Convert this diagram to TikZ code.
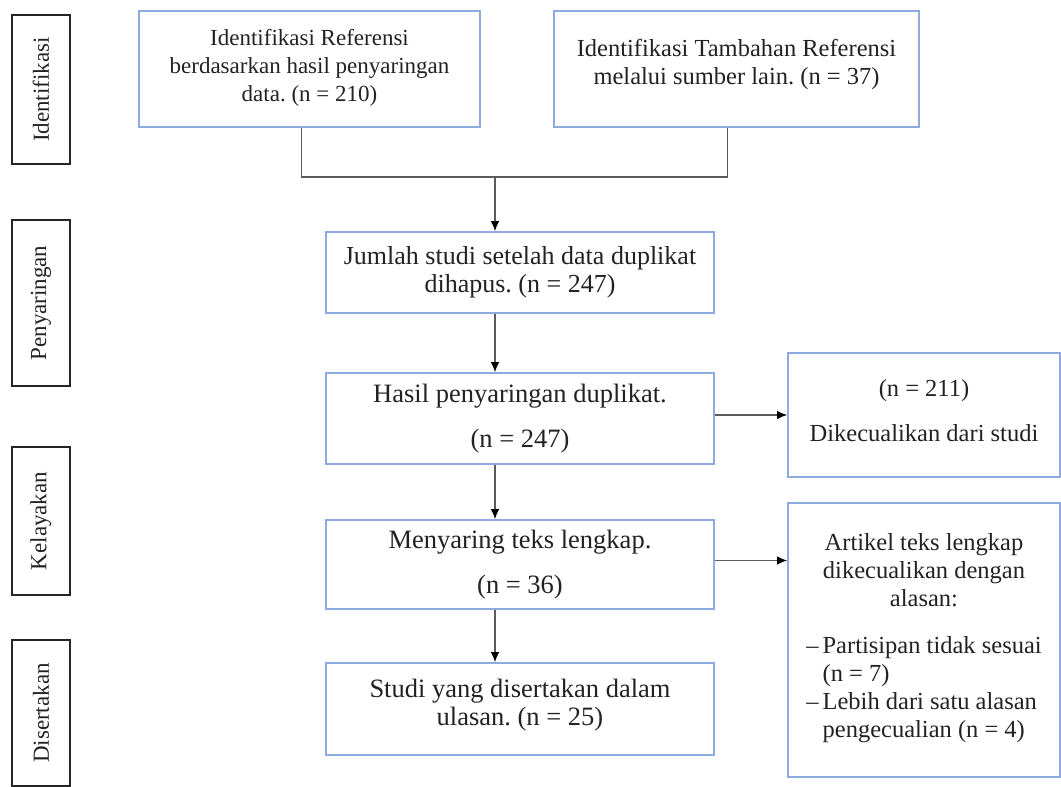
\documentclass[tikz,border=0pt]{standalone}
\usepackage{fontspec}
\setmainfont{Liberation Serif}
\usepackage{tikz}
\usetikzlibrary{arrows.meta, positioning, calc}
\definecolor{boxblue}{HTML}{8FAADC}
\definecolor{txtgray}{HTML}{222222}
\definecolor{linegray}{HTML}{5A5A5A}
\tikzset{>={Latex[length=10pt,width=8.5pt,color=black]}}
\tikzset{
  flowbox/.style={draw=boxblue, line width=1.6pt, align=center, inner sep=4pt, text=txtgray},
  stagebox/.style={draw=black!85, line width=1.8pt, rotate=90, minimum height=58pt, text=txtgray,
    font=\fontsize{23}{26}\selectfont},
  link/.style={draw=linegray, line width=1.3pt}
}
\newcommand{\fsz}[1]{\fontsize{#1}{28}\selectfont}
\frenchspacing

\begin{document}
\begin{tikzpicture}[x=1pt, y=-1pt]
\useasboundingbox (0,0) rectangle (1061,787);
% tahapan di kiri
\node[stagebox, minimum width=149pt] (sId) at (41,89.5) {Identifikasi};
\node[stagebox, minimum width=166pt] (sPy) at (41,303) {Penyaringan};
\node[stagebox, minimum width=148pt] (sKl) at (41,521) {Kelayakan};
\node[stagebox, minimum width=146pt] (sDs) at (41,713) {Disertakan};

% kotak alur
\node[flowbox, font=\fsz{23}, minimum width=341pt, minimum height=116pt] (ref) at (309.5,69)
  {Identifikasi Referensi\\ berdasarkan hasil penyaringan\\ data. (n = 210)\\[-20pt] \mbox{}};
\node[flowbox, font=\fsz{24.5}, minimum width=365pt, minimum height=116pt] (tambah) at (736.5,69)
  {Identifikasi Tambahan Referensi\\ melalui sumber lain. (n = 37)\\[-14pt] \mbox{}};
\node[flowbox, font=\fsz{26}, minimum width=388pt, minimum height=81pt] (dup) at (520,272.5)
  {Jumlah studi setelah data duplikat\\ dihapus. (n = 247)};
\node[flowbox, font=\fsz{26.5}, minimum width=388pt, minimum height=91pt] (hasil) at (520,418.5)
  {Hasil penyaringan duplikat.\\[17pt] (n = 247)};
\node[flowbox, font=\fsz{26.5}, minimum width=388pt, minimum height=89pt] (teks) at (520,564.5)
  {Menyaring teks lengkap.\\[17pt] (n = 36)};
\node[flowbox, font=\fsz{26.5}, minimum width=388pt, minimum height=92pt] (akhir) at (520,709)
  {Studi yang disertakan dalam\\ ulasan. (n = 25)\\[-14pt] \mbox{}};
\node[flowbox, font=\fsz{24.5}, minimum width=272pt, minimum height=124pt] (kecuali) at (924,415)
  {(n = 211)\\[17pt] Dikecualikan dari studi\\[-18pt] \mbox{}};
\node[flowbox, font=\fsz{24.5}, minimum width=272pt, minimum height=274pt] (alasan) at (924,640)
  {Artikel teks lengkap\\ dikecualikan dengan\\ alasan:\\[26pt]
   \begin{tabular}{@{}l@{\,}l@{}}
   \textendash & Partisipan tidak sesuai\\
               & (n = 7)\\
   \textendash & Lebih dari satu alasan\\
               & pengecualian (n = 4)
   \end{tabular}};

% penghubung
\coordinate (gabung) at (495,177);
\draw[link] ([xshift=-8pt]ref.south) |- (gabung) -| ([xshift=-9pt]tambah.south);
\draw[link,->] (gabung) -- (gabung |- dup.north);
\draw[link,->] (dup.south -| gabung) -- (hasil.north -| gabung);
\draw[link,->] (hasil.south -| gabung) -- (teks.north -| gabung);
\draw[link,->] (teks.south -| gabung) -- (akhir.north -| gabung);
\draw[link,->] (hasil.east |- kecuali.west) -- (kecuali.west);
\draw[link,->] ([yshift=4pt]teks.east) -- ([yshift=4pt]teks.east -| alasan.west);
\end{tikzpicture}
\end{document}
